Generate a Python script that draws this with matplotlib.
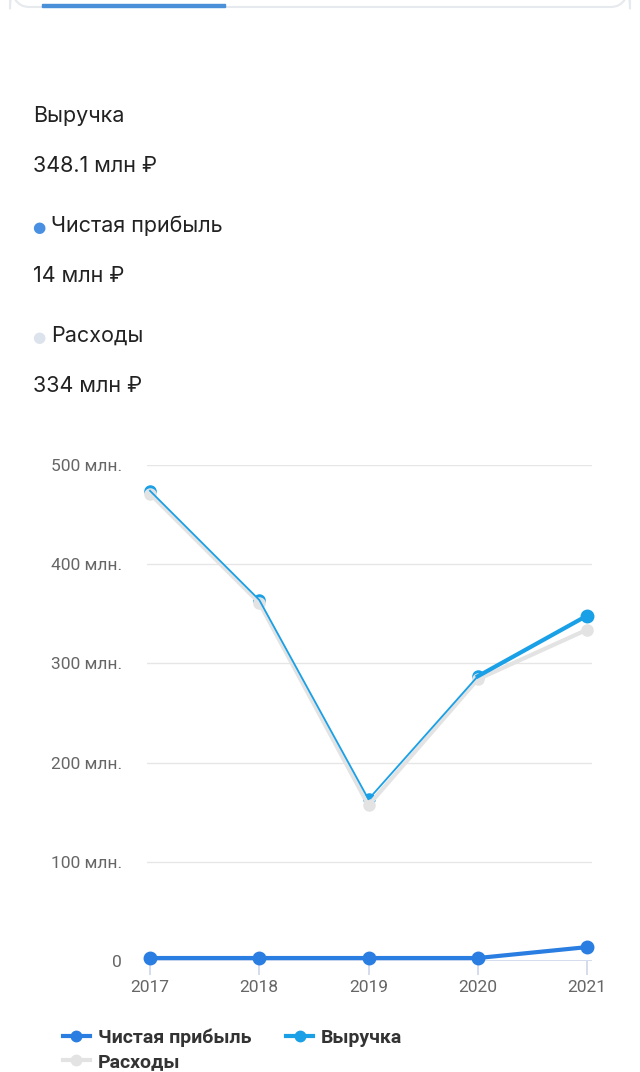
import matplotlib.pyplot as plt
from matplotlib.patches import FancyBboxPatch
from matplotlib.lines import Line2D

# data (млн руб.)
years = [2017, 2018, 2019, 2020, 2021]
profit = [3, 3, 3, 3, 14]
revenue = [474, 364, 163, 287, 348.1]
expenses = [471, 361, 157, 284, 334]
yticks = [0, 100, 200, 300, 400, 500]
ytick_labels = ['0', '100 млн.', '200 млн.', '300 млн.', '400 млн.', '500 млн.']

summary = [('Выручка', '348.1 млн ₽', None),
           ('Чистая прибыль', '14 млн ₽', '#4a90e2'),
           ('Расходы', '334 млн ₽', '#dde3ec')]

c_profit = '#2a7de1'
c_revenue = '#1aa0e6'
c_exp = '#e3e3e3'

W, H = 640, 1072
fig = plt.figure(figsize=(W / 100, H / 100), dpi=100)
fonts = ['Inter', 'DejaVu Sans']

# tab header at the very top
fig.patches.append(FancyBboxPatch((10 / W, (H - 7) / H), 620 / W, 30 / H,
                                  boxstyle='round,pad=0,rounding_size=0.03',
                                  transform=fig.transFigure, fc='white',
                                  ec='#e6e9ee', lw=1.5))
fig.patches.append(plt.Rectangle((42 / W, (H - 7) / H), 183 / W, 3 / H,
                                 transform=fig.transFigure, color='#4a90d9'))

# summary block
y = 116
for title, value, dot in summary:
    x = 33
    if dot:
        fig.text(39 / W, 1 - (y + 2) / H, '●', color=dot, fontsize=11,
                 ha='center', va='center', family=['DejaVu Sans'])
        x = 51
    fig.text(x / W, 1 - y / H, title, fontsize=15.5, color='#222222',
             va='center', family=fonts)
    fig.text(33 / W, 1 - (y + 50) / H, value, fontsize=15.5, color='#222222',
             va='center', family=fonts)
    y += 110

# chart
ax = fig.add_axes([147 / W, (H - 961) / H, 445 / W, 496 / H])
ax.set_xlim(2017 - 3 / 109.25, 2021 + 5 / 109.25)
ax.set_ylim(0, 500)
for s in ax.spines.values():
    s.set_visible(False)
for t in yticks[1:]:
    ax.axhline(t, color='#e6e6e6', lw=1, zorder=0)
ax.axhline(0, color='#ccd6eb', lw=1.2, zorder=0)

ax.plot(years, expenses, color=c_exp, lw=3, marker='o', ms=8, zorder=2,
        clip_on=False)
ax.plot(years, revenue, color=c_revenue, lw=1.3, zorder=3, clip_on=False)
ax.plot(years[-2:], revenue[-2:], color=c_revenue, lw=3, zorder=3,
        clip_on=False)
ax.plot(years, revenue, ls='none', marker='o', ms=8, color=c_revenue,
        zorder=1, clip_on=False)
ax.plot(years[-1:], revenue[-1:], ls='none', marker='o', ms=9,
        color=c_revenue, zorder=4, clip_on=False)
ax.plot(years, profit, color=c_profit, lw=3, marker='o', ms=9, zorder=5,
        clip_on=False)

ax.set_yticks(yticks)
ax.set_yticklabels(ytick_labels)
ax.set_xticks(years)
ax.set_xticklabels([str(v) for v in years])
ax.tick_params(axis='y', length=0, pad=18, labelsize=12.5, labelcolor='#666666')
ax.tick_params(axis='x', length=10, width=1.2, color='#ccd6eb', pad=4,
               labelsize=12.5, labelcolor='#666666')
for lab in ax.get_xticklabels() + ax.get_yticklabels():
    lab.set_family(['Roboto', 'DejaVu Sans'])

handles = [Line2D([], [], color=c_profit, lw=3, marker='o', ms=7.5),
           Line2D([], [], color=c_exp, lw=3, marker='o', ms=7.5),
           Line2D([], [], color=c_revenue, lw=3, marker='o', ms=7.5)]
labels = ['Чистая прибыль', 'Расходы', 'Выручка']
fig.legend(handles, labels, ncol=2, loc='upper left',
           bbox_to_anchor=(53 / W, 1 - 1019 / H), frameon=False,
           prop={'family': ['Roboto', 'DejaVu Sans'], 'weight': 'bold',
                 'size': 14},
           labelcolor='#333333', handlelength=1.4, handletextpad=0.4,
           columnspacing=1.8, labelspacing=0.3, borderpad=0)

fig.savefig('out.png', dpi=100, facecolor='white')
